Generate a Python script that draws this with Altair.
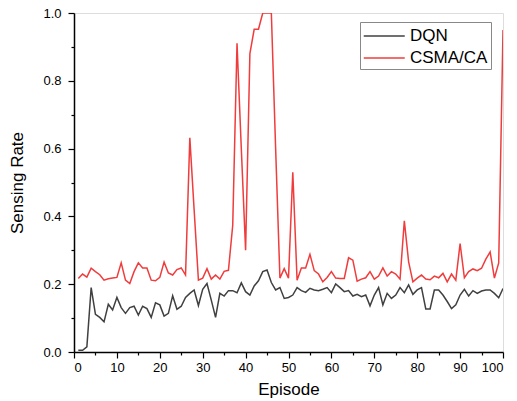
import altair as alt
import pandas as pd

episodes = list(range(1, 101))

dqn = [0.005, 0.005, 0.015, 0.19, 0.111, 0.102, 0.089, 0.141, 0.124, 0.161,
       0.131, 0.114, 0.131, 0.135, 0.109, 0.135, 0.128, 0.102, 0.145, 0.139,
       0.106, 0.114, 0.166, 0.126, 0.135, 0.161, 0.173, 0.183, 0.137, 0.185,
       0.202, 0.153, 0.102, 0.173, 0.165, 0.181, 0.181, 0.175, 0.204, 0.178,
       0.168, 0.195, 0.21, 0.237, 0.242, 0.205, 0.183, 0.19, 0.158, 0.161,
       0.168, 0.19, 0.181, 0.176, 0.188, 0.183, 0.181, 0.185, 0.19, 0.175,
       0.201, 0.19, 0.178, 0.181, 0.165, 0.17, 0.163, 0.168, 0.136, 0.168,
       0.19, 0.139, 0.173, 0.158, 0.168, 0.19, 0.175, 0.198, 0.17, 0.183,
       0.19, 0.127, 0.127, 0.183, 0.183, 0.168, 0.149, 0.128, 0.139, 0.168,
       0.185, 0.165, 0.181, 0.173, 0.18, 0.183, 0.183, 0.173, 0.16, 0.187]

csma = [0.217, 0.23, 0.221, 0.247, 0.237, 0.228, 0.212, 0.216, 0.218, 0.22,
        0.263, 0.212, 0.202, 0.237, 0.263, 0.248, 0.248, 0.212, 0.21, 0.22,
        0.265, 0.233, 0.227, 0.243, 0.248, 0.227, 0.632, 0.42, 0.212, 0.218,
        0.246, 0.215, 0.227, 0.215, 0.238, 0.241, 0.374, 0.911, 0.6, 0.30,
        0.88, 0.952, 0.952, 1.0, 1.0, 1.0, 0.6, 0.218, 0.246, 0.218,
        0.53, 0.212, 0.248, 0.248, 0.288, 0.24, 0.23, 0.207, 0.22, 0.237,
        0.218, 0.217, 0.217, 0.278, 0.271, 0.209, 0.215, 0.219, 0.237, 0.215,
        0.224, 0.248, 0.224, 0.237, 0.23, 0.215, 0.387, 0.266, 0.207, 0.218,
        0.227, 0.215, 0.213, 0.224, 0.219, 0.232, 0.207, 0.23, 0.212, 0.32,
        0.219, 0.237, 0.245, 0.24, 0.247, 0.274, 0.295, 0.218, 0.263, 0.95]

series_names = ["DQN", "CSMA/CA"]
series_colors = ["#404040", "#f03c3c"]

x_major = list(range(0, 101, 10))
x_minor = list(range(5, 100, 10))
y_major = [0.0, 0.2, 0.4, 0.6, 0.8, 1.0]
y_minor = [0.1, 0.3, 0.5, 0.7, 0.9]

rows = []
for name, vals in zip(series_names, [dqn, csma]):
    for i, (e, v) in enumerate(zip(episodes, vals)):
        rows.append({"Episode": e, "Rate": v, "Series": name, "order": i})
df = pd.DataFrame(rows)

FONT = "Liberation Sans"

common = dict(grid=False, labelColor="black", titleColor="black",
              domainColor="black", tickColor="black", domainWidth=1.5,
              tickWidth=1.2, labelFont=FONT, titleFont=FONT)

xscale = alt.Scale(domain=[0, 100], nice=False, zero=False)
yscale = alt.Scale(domain=[0, 1], nice=False)

lines = alt.Chart(df).mark_line(strokeWidth=1.5, clip=True).encode(
    x=alt.X("Episode:Q", scale=xscale,
            axis=alt.Axis(values=x_major, title="Episode", orient="bottom",
                          tickSize=6, labelFontSize=13, titleFontSize=17,
                          titleFontWeight="normal", labelPadding=3, titlePadding=7,
                          **common)),
    y=alt.Y("Rate:Q", scale=yscale,
            axis=alt.Axis(values=y_major, title="Sensing Rate", orient="left",
                          format=".1f", tickSize=6, labelFontSize=13,
                          titleFontSize=17, titleFontWeight="normal",
                          labelPadding=7, titlePadding=16, **common)),
    color=alt.Color("Series:N",
                    scale=alt.Scale(domain=series_names, range=series_colors),
                    legend=alt.Legend(title=None, orient="none", legendX=286, legendY=9,
                                      symbolType="M-1,0H3", symbolSize=420,
                                      symbolStrokeWidth=1.5, labelFontSize=17,
                                      labelFont=FONT, labelColor="black",
                                      strokeColor="#888888", fillColor="white",
                                      padding=3, rowPadding=3, labelOffset=25)),
    order="order:Q",
)

minor = alt.Chart(df).mark_line(strokeOpacity=0).encode(
    x=alt.X("Episode:Q", scale=xscale,
            axis=alt.Axis(values=x_minor, title=None, labels=False, domain=False,
                          orient="bottom", tickSize=3, tickColor="black",
                          tickWidth=1.2, grid=False)),
    y=alt.Y("Rate:Q", scale=yscale,
            axis=alt.Axis(values=y_minor, title=None, labels=False, domain=False,
                          orient="left", tickSize=3, tickColor="black",
                          tickWidth=1.2, grid=False)),
    detail="Series:N",
)

chart = alt.layer(lines, minor).resolve_axis(
    x="independent", y="independent"
).properties(
    width=429, height=339,
    padding={"left": 74, "top": 13, "right": 14, "bottom": 49},
    autosize=alt.AutoSizeParams(type="none"),
).configure_view(
    stroke="#444444", strokeWidth=1.5
).configure(background="white")

chart.save("out.html", embed_options={"renderer": "svg", "actions": False})
